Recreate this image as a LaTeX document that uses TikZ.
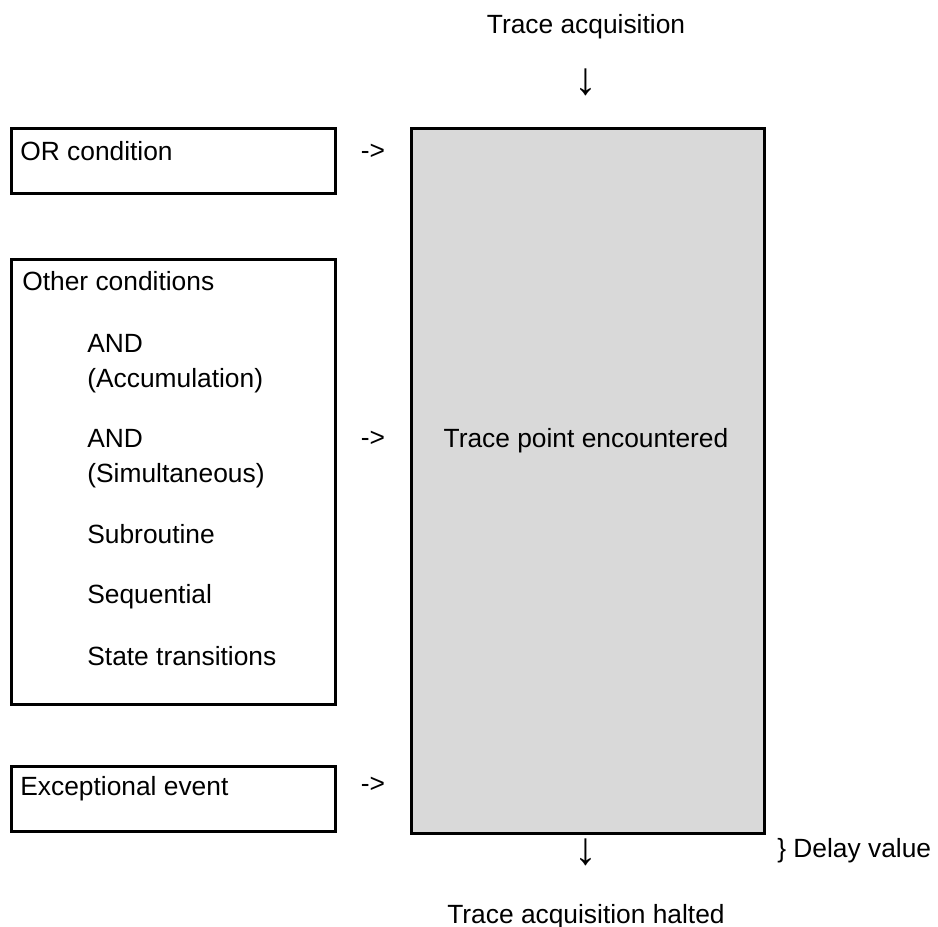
\documentclass[tikz,border=0pt]{standalone}
\usepackage{fontspec}
\setmainfont{Liberation Sans}
\usetikzlibrary{positioning}
\definecolor{Grey1}{RGB}{217,217,217}

\begin{document}
\begin{tikzpicture}[x=0.02cm,y=-0.02cm]
	
\useasboundingbox (0,0) rectangle (938,927);
\tikzset{condbox/.style={draw,line width=1.9pt,anchor=north west,inner sep=0pt,minimum width=6.48cm},
	lbl/.style={anchor=base west,inner sep=0pt},
	midlbl/.style={anchor=base,inner sep=0pt},
	downmark/.style={inner sep=0pt,font=\fontsize{26}{26}\selectfont}}

\begin{scope}[font=\fontsize{15}{18}\selectfont]
% left column
\node[condbox,minimum height=1.3cm] (orbox) at (10,127) {};
\node[condbox,minimum height=8.9cm] (otherbox) at (10,258) {};
\node[condbox,minimum height=1.3cm] (excbox) at (10,765) {};
\node[lbl] (ortxt) at (20,160) {OR condition};
\node[lbl] (othertxt) at (22,290) {Other conditions};
\node[lbl] (andacc) at (87,352) {AND};
\node[lbl] (acc) at (87,387) {(Accumulation)};
\node[lbl] (andsim) at (87,447) {AND};
\node[lbl] (sim) at (87,482) {(Simultaneous)};
\node[lbl] (subr) at (87,543) {Subroutine};
\node[lbl] (seq) at (87,603) {Sequential};
\node[lbl] (state) at (87,665) {State transitions};
\node[lbl] (exctxt) at (20,795) {Exceptional event};

% the "->" marks
\node[midlbl] (ormark) at (373,159) {->};
\node[midlbl] (othermark) at (373,446) {->};
\node[midlbl] (excmark) at (373,792) {->};

% right column
\node[condbox,fill=Grey1,minimum width=7.06cm,minimum height=14.1cm] (tracebox) at (410,127) {};
\node[midlbl] (point) at (586,447) {Trace point encountered};
\node[midlbl] (start) at (586,33) {Trace acquisition};
\node[downmark] (downa) at (586,82) {↓};
\node[downmark] (downb) at (586,852) {↓};
\node[lbl] (delay) at (777,857) {\} Delay value};
\node[midlbl] (halt) at (586,923) {Trace acquisition halted};
\end{scope}

\end{tikzpicture}
\end{document}
